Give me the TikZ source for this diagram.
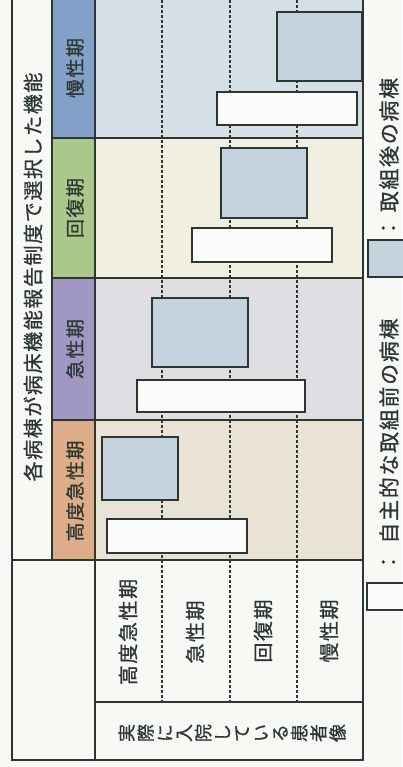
\documentclass[tikz,border=0pt]{standalone}
\usepackage{fontspec}
\newfontfamily\jp[LetterSpace=8,FakeBold=0.8]{Noto Sans CJK JP}
\definecolor{paper}{HTML}{F8F8F5}
\definecolor{ink}{HTML}{2D3732}
\definecolor{hdrblue}{HTML}{82A0C8}
\definecolor{regblue}{HTML}{D5E0E6}
\definecolor{hdrgreen}{HTML}{AAC78C}
\definecolor{regcream}{HTML}{F0EFE1}
\definecolor{hdrpurple}{HTML}{A098C3}
\definecolor{reggray}{HTML}{DEDEE3}
\definecolor{hdrtan}{HTML}{DDAC88}
\definecolor{regbeige}{HTML}{E8E3D5}
\definecolor{boxblue}{HTML}{C4D3DE}
\definecolor{boxwhite}{HTML}{FBFBF9}
\tikzset{
  rule/.style={draw=ink, line width=1.3pt},
  guide/.style={draw=ink, line width=1.1pt, dash pattern=on 3pt off 2pt},
  afterbox/.style={draw=ink, line width=1.8pt, fill=boxblue},
  beforebox/.style={draw=ink, line width=1.8pt, fill=boxwhite},
  vlabel/.style={rotate=90, inner sep=0pt, text=ink},
  hdrfont/.style={font=\jp\fontsize{19}{19}\selectfont},
  rowfont/.style={font=\jp\fontsize{20}{20}\selectfont},
  legfont/.style={font=\jp\fontsize{21}{21}\selectfont},
}
\begin{document}
\begin{tikzpicture}[x=1pt,y=-1pt]
\useasboundingbox (0,0) rectangle (402,767);
\fill[paper] (0,0) rectangle (402,767);
% header colour cells
\fill[hdrblue]   (52,0)   rectangle (95,138);
\fill[hdrgreen]  (52,138) rectangle (95,278);
\fill[hdrpurple] (52,278) rectangle (95,420);
\fill[hdrtan]    (52,420) rectangle (95,560);
% region backgrounds
\fill[regblue]  (95,0)   rectangle (363,138);
\fill[regcream] (95,138) rectangle (363,278);
\fill[reggray]  (95,278) rectangle (363,420);
\fill[regbeige] (95,420) rectangle (363,560);
% dashed guides
\draw[guide] (162,0) -- (162,702);
\draw[guide] (230,0) -- (230,702);
\draw[guide] (297,0) -- (297,702);
% solid rules
\draw[rule] (12,0) -- (12,760) -- (363,760) -- (363,0);
\draw[rule] (52,0) -- (52,560);
\draw[rule] (95,0) -- (95,760);
\draw[rule] (52,138) -- (363,138);
\draw[rule] (52,278) -- (363,278);
\draw[rule] (52,420) -- (363,420);
\draw[rule] (12,560) -- (363,560);
\draw[rule] (95,702) -- (363,702);
% boxes
\draw[afterbox]  (102,437) rectangle (178,500);
\draw[beforebox] (107,519) rectangle (247,553);
\draw[afterbox]  (152,298) rectangle (248,367);
\draw[beforebox] (137,380) rectangle (305,412);
\draw[afterbox]  (221,148) rectangle (307,218);
\draw[beforebox] (192,228) rectangle (332,262);
\draw[afterbox]  (277,12) rectangle (362,81);
\draw[beforebox] (217,92) rectangle (357,125);
% texts
\node[vlabel, font=\jp\fontsize{20}{20}\selectfont] (title) at (33,277) {各病棟が病床機能報告制度で選択した機能};
\node[vlabel, hdrfont] (h4) at (75,68) {慢性期};
\node[vlabel, hdrfont] (h3) at (75,208) {回復期};
\node[vlabel, hdrfont] (h2) at (75,349) {急性期};
\node[vlabel, hdrfont] (h1) at (75,491) {高度急性期};
\node[vlabel, rowfont] (r1) at (128,632) {高度急性期};
\node[vlabel, rowfont] (r2) at (195,632) {急性期};
\node[vlabel, rowfont] (r3) at (263,631) {回復期};
\node[vlabel, rowfont] (r4) at (329,631) {慢性期};
\node[vlabel, align=center, font=\jp\fontsize{18}{19.2}\selectfont] (patients) at (232,733)
  {実\\際\\に\\入\\院\\し\\て\\い\\る\\患\\者\\像};
% legend
\node[vlabel, legfont] (legafter) at (389,145) {取組後の病棟};
\node[vlabel, legfont] (colonA) at (389,228) {：};
\draw[afterbox] (368,240) rectangle (406,277);
\node[vlabel, legfont] (legbefore) at (389,431) {自主的な取組前の病棟};
\node[vlabel, legfont] (colonB) at (389,562) {：};
\draw[beforebox] (367,583) rectangle (406,610);
\end{tikzpicture}
\end{document}
